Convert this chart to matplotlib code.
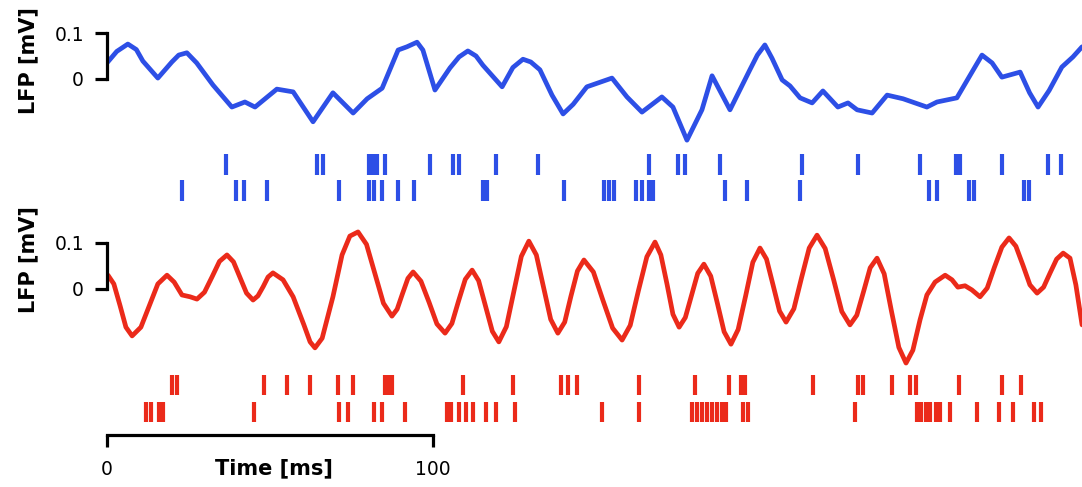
import numpy as np
from matplotlib import pyplot as plt

# LFP traces (time in ms, LFP in mV)
blue_t = [0.0, 3.0, 6.4, 9.0, 11.0, 15.6, 19.9, 22.0, 24.5, 27.5, 32.5, 38.3,
          42.3, 45.4, 52.1, 57.1, 63.2, 69.3, 75.5, 79.8, 84.4, 89.3, 92.0,
          95.1, 96.9, 100.6, 105.2, 108.0, 110.7, 113.2, 115.3, 121.2, 124.5,
          127.6, 130.0, 132.8, 136.5, 139.9, 143.0, 147.2, 154.9, 159.5, 164.1,
          170.2, 173.6, 177.9, 182.5, 185.6, 191.1, 197.2, 199.5, 201.8, 204.0,
          207.1, 209.5, 212.6, 216.3, 219.6, 224.2, 227.3, 230.1, 234.7, 239.3,
          244.2, 251.5, 254.6, 260.7, 264.5, 268.4, 271.5, 274.5, 280.1, 283.0,
          285.6, 289.0, 292.9, 296.3, 299.1]
blue_v = [0.035, 0.060, 0.076, 0.064, 0.039, 0.002, 0.037, 0.052, 0.057, 0.035,
          -0.013, -0.061, -0.050, -0.061, -0.022, -0.028, -0.093, -0.030,
          -0.074, -0.043, -0.020, 0.063, 0.070, 0.080, 0.063, -0.024, 0.024,
          0.048, 0.061, 0.050, 0.030, -0.017, 0.025, 0.043, 0.037, 0.020,
          -0.035, -0.076, -0.055, -0.017, 0.002, -0.039, -0.072, -0.039, -0.061,
          -0.133, -0.067, 0.007, -0.067, 0.020, 0.052, 0.074, 0.045, -0.002,
          -0.015, -0.041, -0.052, -0.026, -0.061, -0.052, -0.067, -0.074,
          -0.035, -0.043, -0.061, -0.050, -0.041, 0.005, 0.052, 0.035, 0.004,
          0.015, -0.030, -0.061, -0.025, 0.026, 0.048, 0.070]

red_t = [0.3, 2.1, 4.0, 5.8, 7.7, 10.4, 13.0, 15.6, 18.4, 20.6, 23.0, 25.5,
         27.6, 29.9, 32.2, 34.5, 36.8, 38.8, 40.8, 42.8, 44.8, 46.3, 47.9, 49.4,
         50.9, 54.0, 57.1, 60.4, 62.3, 63.8, 66.0, 69.3, 72.1, 74.5, 77.0, 79.6,
         82.2, 84.8, 87.4, 89.0, 90.6, 92.3, 93.9, 96.3, 98.8, 101.2, 103.7,
         105.8, 107.8, 109.9, 112.0, 114.0, 116.1, 118.2, 120.2, 122.5, 124.8,
         127.1, 129.4, 131.7, 133.9, 136.1, 138.3, 140.4, 142.3, 144.3, 146.3,
         149.2, 152.1, 155.1, 158.0, 160.5, 163.0, 165.6, 168.1, 169.9, 171.8,
         173.6, 175.5, 177.4, 179.3, 181.2, 183.1, 185.2, 187.3, 189.3, 191.4,
         193.6, 195.9, 198.1, 200.3, 202.3, 204.3, 206.3, 208.3, 210.7, 213.0,
         215.4, 217.8, 220.3, 222.9, 225.4, 227.9, 230.0, 232.1, 234.1, 236.2,
         238.4, 240.6, 242.9, 245.1, 247.2, 249.4, 251.5, 254.0, 257.1, 259.2,
         261.0, 263.2, 265.3, 267.8, 270.0, 272.2, 274.5, 276.7, 278.8, 281.0,
         283.1, 285.3, 287.3, 289.3, 291.3, 293.3, 295.4, 297.2, 299.1]
red_v = [0.030, 0.011, -0.036, -0.083, -0.102, -0.083, -0.036, 0.011, 0.030,
         0.015, -0.013, -0.017, -0.022, -0.007, 0.026, 0.060, 0.074, 0.059,
         0.025, -0.009, -0.024, -0.015, 0.005, 0.026, 0.035, 0.020, -0.017,
         -0.078, -0.115, -0.128, -0.107, -0.017, 0.074, 0.115, 0.124, 0.097,
         0.033, -0.031, -0.059, -0.044, -0.011, 0.023, 0.037, 0.017, -0.029,
         -0.076, -0.096, -0.075, -0.027, 0.021, 0.041, 0.018, -0.037, -0.092,
         -0.115, -0.082, -0.005, 0.071, 0.104, 0.074, 0.004, -0.066, -0.096,
         -0.072, -0.016, 0.039, 0.063, 0.037, -0.024, -0.085, -0.111, -0.079,
         -0.004, 0.070, 0.102, 0.074, 0.010, -0.055, -0.083, -0.062, -0.014,
         0.034, 0.054, 0.028, -0.033, -0.093, -0.120, -0.088, -0.015, 0.058,
         0.089, 0.065, 0.009, -0.048, -0.072, -0.043, 0.023, 0.089, 0.117,
         0.088, 0.020, -0.049, -0.078, -0.057, -0.005, 0.046, 0.067, 0.033,
         -0.047, -0.127, -0.161, -0.133, -0.067, -0.013, 0.015, 0.030, 0.020,
         0.004, 0.007, -0.002, -0.017, 0.002, 0.047, 0.091, 0.111, 0.093, 0.051,
         0.009, -0.009, 0.004, 0.035, 0.065, 0.078, 0.067, 0.009, -0.078]

# spike times (ms), two units per population
blue_spikes_1 = [36.4, 64.3, 66.2, 80.3, 81.7, 82.9, 85.3, 99.1, 106.0, 108.1,
                 119.3, 132.1, 166.3, 175.3, 177.3, 188.1, 213.3, 230.5, 249.4,
                 260.4, 261.7, 274.4, 288.6, 292.5]
blue_spikes_2 = [23.1, 39.5, 42.0, 49.0, 71.1, 80.3, 81.9, 84.3, 89.4, 94.3,
                 115.3, 116.6, 140.3, 152.5, 154.0, 155.6, 162.2, 164.2, 166.3,
                 167.6, 189.6, 196.4, 212.7, 252.1, 254.5, 264.5, 265.9, 281.4,
                 282.7]
red_spikes_1 = [20.0, 21.4, 48.2, 55.1, 62.3, 71.0, 75.6, 85.3, 86.4, 87.5,
                109.3, 124.6, 139.3, 141.5, 144.3, 163.3, 180.4, 190.8, 194.4,
                195.7, 216.7, 230.5, 231.8, 240.7, 246.3, 248.1, 261.4, 274.4,
                280.4]
red_spikes_2 = [11.9, 13.4, 16.0, 17.3, 45.1, 71.1, 74.0, 81.9, 84.4, 91.4,
                104.3, 105.5, 108.1, 110.2, 112.4, 116.3, 119.3, 125.2, 151.7,
                163.3, 179.5, 180.9, 182.6, 184.0, 185.7, 187.0, 188.5, 189.8,
                195.0, 196.6, 229.4, 248.4, 249.6, 251.2, 252.5, 254.2, 255.5,
                258.6, 266.8, 273.7, 277.8, 284.4, 286.5]

blue = '#2d4fe6'
red = '#eb2a1a'
W, H = 1082, 487


def px_axes(fig, top, bottom):
    return fig.add_axes([107 / W, 1 - bottom / H, 978 / W, (bottom - top) / H])


def style_lfp(ax):
    for s in ['top', 'right', 'bottom']:
        ax.spines[s].set_visible(False)
    ax.spines['left'].set_bounds(0, 0.1)
    ax.spines['left'].set_linewidth(2.3)
    ax.set_yticks([0, 0.1])
    ax.set_yticklabels(['0', '0.1'])
    ax.tick_params(axis='y', length=8.5, width=2.3, pad=8, labelsize=13.5)
    ax.set_xticks([])
    ax.set_xlim(0, 300)


def style_raster(ax):
    for s in ['top', 'right', 'left', 'bottom']:
        ax.spines[s].set_visible(False)
    ax.set_xticks([])
    ax.set_yticks([])
    ax.set_xlim(0, 300)
    ax.set_ylim(0, 2)


fig = plt.figure(figsize=(W / 100, H / 100), dpi=100)

ax_b = px_axes(fig, 25, 145)
ax_b.plot(blue_t, blue_v, color=blue, linewidth=3.4, solid_joinstyle='round',
          solid_capstyle='round')
ax_b.set_ylim(-0.1435, 0.1174)
style_lfp(ax_b)

ax_br = px_axes(fig, 151, 204)
ax_br.eventplot([blue_spikes_1, blue_spikes_2], lineoffsets=[1.5, 0.5],
                linelengths=0.79, linewidths=3.0, colors=blue)
style_raster(ax_br)

ax_r = px_axes(fig, 225, 370)
ax_r.plot(red_t, red_v, color=red, linewidth=3.4, solid_joinstyle='round',
          solid_capstyle='round')
ax_r.set_ylim(-0.1761, 0.1391)
style_lfp(ax_r)

ax_rr = px_axes(fig, 371.5, 425.5)
ax_rr.eventplot([red_spikes_1, red_spikes_2], lineoffsets=[1.5, 0.5],
                linelengths=0.74, linewidths=3.0, colors=red)
style_raster(ax_rr)

# time scale bar
ax_rr.spines['bottom'].set_visible(True)
ax_rr.spines['bottom'].set_position(('outward', 7))
ax_rr.spines['bottom'].set_bounds(0, 100)
ax_rr.spines['bottom'].set_linewidth(2.3)
ax_rr.set_xticks([0, 100])
ax_rr.set_xticklabels(['0', '100'])
ax_rr.tick_params(axis='x', length=8.5, width=2.3, pad=9, labelsize=13.5)
ax_rr.set_xlabel('Time [ms]', fontsize=15, fontweight='bold')
ax_rr.xaxis.set_label_coords(0.171, -0.60)

fig.text(28 / W, 1 - 61 / H, 'LFP [mV]', rotation=90, ha='center', va='center',
         fontsize=15, fontweight='bold')
fig.text(28 / W, 1 - 260 / H, 'LFP [mV]', rotation=90, ha='center', va='center',
         fontsize=15, fontweight='bold')

plt.savefig('out.png', dpi=100)
